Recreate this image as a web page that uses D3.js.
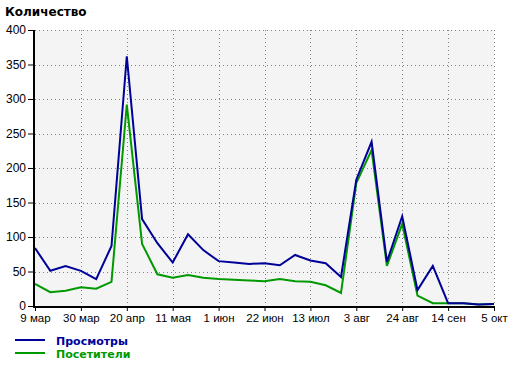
<!DOCTYPE html>
<html><head><meta charset="utf-8">
<script src="https://cdn.jsdelivr.net/npm/d3@7"></script>
<style>body{margin:0;background:#fff}svg{display:block}</style>
</head><body>
<svg id="c" width="520" height="366"></svg>
<script>
const weeks = ["2009-03-09","2009-03-16","2009-03-23","2009-03-30","2009-04-06","2009-04-13","2009-04-20","2009-04-27","2009-05-04","2009-05-11","2009-05-18","2009-05-25","2009-06-01","2009-06-08","2009-06-15","2009-06-22","2009-06-29","2009-07-06","2009-07-13","2009-07-20","2009-07-27","2009-08-03","2009-08-10","2009-08-17","2009-08-24","2009-08-31","2009-09-07","2009-09-14","2009-09-21","2009-09-28","2009-10-05"];
const views    = [84,51,58,51,39,87,362,126,91,63,104,81,65,63,61,62,59,74,66,62,42,183,238,64,130,23,58,4,4,2,3];
const visitors = [32,20,22,27,25,35,292,90,46,41,45,41,39,38,37,36,39,36,35,30,19,178,226,58,119,15,4,4,4,2,3];
const yTicks = [0,50,100,150,200,250,300,350,400];
const xTickDates = ["2009-03-09","2009-03-30","2009-04-20","2009-05-11","2009-06-01","2009-06-22","2009-07-13","2009-08-03","2009-08-24","2009-09-14","2009-10-05"];
const xTickLabels = ["9 мар","30 мар","20 апр","11 мая","1 июн","22 июн","13 июл","3 авг","24 авг","14 сен","5 окт"];
const seriesNames = ["Просмотры","Посетители"];
const seriesColors = ["#000099","#009900"];

const parse = d3.utcParse("%Y-%m-%d");
const dates = weeks.map(parse);
const tickDates = xTickDates.map(parse);
const svg = d3.select("#c");
const L = 35, R = 494, T = 30, B = 306;
const x = d3.scaleUtc().domain([dates[0], dates[dates.length-1]]).range([L, R]);
const y = d3.scaleLinear().domain([0, 400]).range([B, T]);

svg.append("rect").attr("x", L).attr("y", T).attr("width", R - L).attr("height", B - T).attr("fill", "#f4f4f4");

const grid = svg.append("g").attr("stroke", "#808080").attr("stroke-width", 1).attr("stroke-dasharray", "1,3");
yTicks.filter(v => v > 0).forEach(v => {
  grid.append("line").attr("x1", L).attr("x2", R + 1).attr("y1", Math.round(y(v)) + 0.5).attr("y2", Math.round(y(v)) + 0.5);
});
tickDates.slice(1).forEach(d => {
  grid.append("line").attr("x1", Math.round(x(d)) + 0.5).attr("x2", Math.round(x(d)) + 0.5).attr("y1", T).attr("y2", B);
});

const line = d3.line().x((d, i) => x(dates[i])).y(d => y(d));
svg.append("path").datum(visitors).attr("d", line).attr("fill", "none").attr("stroke", seriesColors[1]).attr("stroke-width", 2).attr("stroke-linejoin", "miter");
svg.append("path").datum(views).attr("d", line).attr("fill", "none").attr("stroke", seriesColors[0]).attr("stroke-width", 2).attr("stroke-linejoin", "miter");

const yAxis = d3.axisLeft(y).tickValues(yTicks).tickSize(5).tickPadding(2);
const gy = svg.append("g").attr("transform", `translate(${L - 2},0)`).call(yAxis);
gy.select(".domain").remove();
gy.selectAll("line").attr("stroke", "#000");
gy.selectAll("text").attr("font-family", "Liberation Sans, Arial, sans-serif").attr("font-size", 12).attr("fill", "#000");
svg.append("line").attr("x1", L - 1).attr("x2", L - 1).attr("y1", T).attr("y2", B + 2).attr("stroke", "#000").attr("stroke-width", 2);

const xAxis = d3.axisBottom(x).tickValues(tickDates).tickFormat((d, i) => xTickLabels[i]).tickSize(5).tickPadding(3);
const gx = svg.append("g").attr("transform", `translate(0,${B})`).call(xAxis);
gx.select(".domain").remove();
gx.selectAll("line").attr("stroke", "#000");
gx.selectAll("text").attr("font-family", "Liberation Sans, Arial, sans-serif").attr("font-size", 11.5).attr("fill", "#000");
svg.append("line").attr("x1", L - 2).attr("x2", R + 1).attr("y1", B + 1).attr("y2", B + 1).attr("stroke", "#000").attr("stroke-width", 2);

svg.append("text").attr("x", 5).attr("y", 16).text("Количество")
  .attr("font-family", "DejaVu Sans, Verdana, sans-serif").attr("font-weight", "bold").attr("font-size", 12).attr("fill", "#000");

seriesNames.forEach((n, i) => {
  const yy = 340 + i * 13;
  svg.append("line").attr("x1", 15).attr("x2", 45).attr("y1", yy).attr("y2", yy).attr("stroke", seriesColors[i]).attr("stroke-width", 2);
  svg.append("text").attr("x", 56).attr("y", yy + 5).text(n)
    .attr("font-family", "DejaVu Sans, Verdana, sans-serif").attr("font-weight", "bold").attr("font-size", 11).attr("fill", seriesColors[i]);
});
</script>
</body></html>
